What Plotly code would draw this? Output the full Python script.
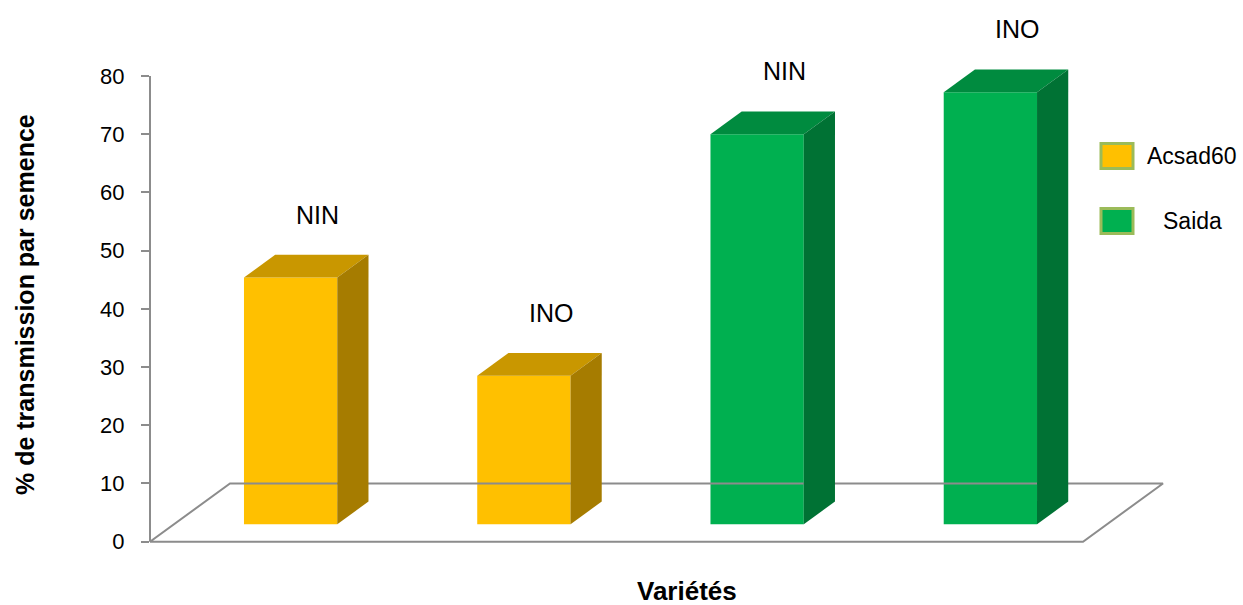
import plotly.graph_objects as go

# ---------------- data ----------------
series = ["Acsad60", "Saida"]
bar_series = ["Acsad60", "Acsad60", "Saida", "Saida"]
bar_labels = ["NIN", "INO", "NIN", "INO"]
values = [42.4, 25.5, 67.0, 74.2]
y_ticks = [0, 10, 20, 30, 40, 50, 60, 70, 80]
y_title = "% de transmission par semence"
x_title = "Variétés"

# ---------------- styles ----------------
front_colors = {"Acsad60": "#FFC000", "Saida": "#00B050"}
top_colors = {"Acsad60": "#C99700", "Saida": "#008B3F"}
side_colors = {"Acsad60": "#A67C00", "Saida": "#007234"}
line_gray = "#8C8C8C"
FONT = "Liberation Sans, Arial, sans-serif"

W, H = 1243, 605
ML, MR, MT, MB = 150, 79, 5, 58
PW, PH = W - ML - MR, H - MT - MB

# y scale: value 0 at pixel 541.7, value 80 at pixel 76
Y0_PX, Y80_PX = 541.7, 76.0
PX_PER_Y = (Y0_PX - Y80_PX) / 80
Y_LO = -((H - MB) - Y0_PX) / PX_PER_Y
Y_HI = 80 + (Y80_PX - MT) / PX_PER_Y

X_MIN = -0.5
PX_PER_CAT = 233.25
X_MAX = X_MIN + PW / PX_PER_CAT

# pseudo-3D geometry (oblique projection)
FLOOR_DX = 80 / PX_PER_CAT     # depth vector, x units
FLOOR_DY = 10.0                # depth vector, y units
DEPTH_FRONT = 0.30
DEPTH_BACK = 0.69
BAR_W = 0.40


def px2paper_x(px):
    return (px - ML) / PW


def px2paper_y(py):
    return (H - MB - py) / PH


fig = go.Figure()

# floor
n = len(values)
fx0, fx1 = X_MIN, X_MIN + n
fig.add_trace(go.Scatter(
    x=[fx0, fx1, fx1 + FLOOR_DX, fx0 + FLOOR_DX, fx0],
    y=[0, 0, FLOOR_DY, FLOOR_DY, 0],
    mode="lines", line=dict(color=line_gray, width=2),
    hoverinfo="skip", showlegend=False))

# bars
bdx = (DEPTH_BACK - DEPTH_FRONT) * FLOOR_DX
bdy = (DEPTH_BACK - DEPTH_FRONT) * FLOOR_DY
base = DEPTH_FRONT * FLOOR_DY
for s in series:
    idx = [i for i, b in enumerate(bar_series) if b == s]
    xs = [i + DEPTH_FRONT * FLOOR_DX for i in idx]
    vs = [values[i] for i in idx]
    fig.add_trace(go.Bar(
        x=xs, y=vs, base=base, width=BAR_W, name=s,
        marker=dict(color=front_colors[s], line=dict(width=0)),
        showlegend=False))
    for xc, v in zip(xs, vs):
        xl, xr = xc - BAR_W / 2, xc + BAR_W / 2
        top = base + v
        # top face
        fig.add_trace(go.Scatter(
            x=[xl, xr, xr + bdx, xl + bdx, xl],
            y=[top, top, top + bdy, top + bdy, top],
            fill="toself", fillcolor=top_colors[s], mode="lines",
            line=dict(width=0, color=top_colors[s]),
            hoverinfo="skip", showlegend=False))
        # side face
        fig.add_trace(go.Scatter(
            x=[xr, xr + bdx, xr + bdx, xr, xr],
            y=[base, base + bdy, top + bdy, top, base],
            fill="toself", fillcolor=side_colors[s], mode="lines",
            line=dict(width=0, color=side_colors[s]),
            hoverinfo="skip", showlegend=False))

# labels above bars
annotations = []
for i, (lab, v) in enumerate(zip(bar_labels, values)):
    annotations.append(dict(
        x=i + DEPTH_FRONT * FLOOR_DX + 27 / PX_PER_CAT,
        y=base + v + bdy + 6.9,
        text=lab, showarrow=False, xanchor="center", yanchor="middle",
        font=dict(family=FONT, size=25, color="black")))

# axis titles
annotations.append(dict(
    xref="paper", yref="paper", x=px2paper_x(25), y=px2paper_y(305),
    text="<b>" + y_title + "</b>", textangle=-90, showarrow=False,
    xanchor="center", yanchor="middle",
    font=dict(family=FONT, size=25, color="black")))
annotations.append(dict(
    xref="paper", yref="paper", x=px2paper_x(686.5), y=px2paper_y(591),
    text="<b>" + x_title + "</b>", showarrow=False,
    xanchor="center", yanchor="middle",
    font=dict(family=FONT, size=26, color="black")))

shapes = []
# value axis line (0 to 80 only)
shapes.append(dict(
    type="line", xref="paper", yref="y", x0=0, x1=0,
    y0=y_ticks[0], y1=y_ticks[-1],
    line=dict(color=line_gray, width=2)))

# custom legend
leg_rows = [156, 221]
for s, cy in zip(series, leg_rows):
    shapes.append(dict(
        type="rect", xref="paper", yref="paper",
        x0=px2paper_x(1101), x1=px2paper_x(1133),
        y0=px2paper_y(cy - 12.5), y1=px2paper_y(cy + 12.5),
        fillcolor=front_colors[s], line=dict(color="#9BBB59", width=3)))
    annotations.append(dict(
        xref="paper", yref="paper", x=px2paper_x(1192), y=px2paper_y(cy),
        text=s, showarrow=False, xanchor="center", yanchor="middle",
        font=dict(family=FONT, size=23, color="black")))

fig.update_layout(
    width=W, height=H,
    margin=dict(l=ML, r=MR, t=MT, b=MB, pad=0),
    paper_bgcolor="white", plot_bgcolor="white",
    xaxis=dict(range=[X_MIN, X_MAX], visible=False, fixedrange=True),
    yaxis=dict(range=[Y_LO, Y_HI], tickvals=y_ticks, showline=False,
               ticks="outside", ticklen=8, tickwidth=2, tickcolor=line_gray,
               showgrid=False, zeroline=False,
               tickfont=dict(family=FONT, size=22, color="black"),
               ticklabelstandoff=12),
    barmode="overlay",
    showlegend=False,
    annotations=annotations,
    shapes=shapes,
)

fig.write_html("out.html")
